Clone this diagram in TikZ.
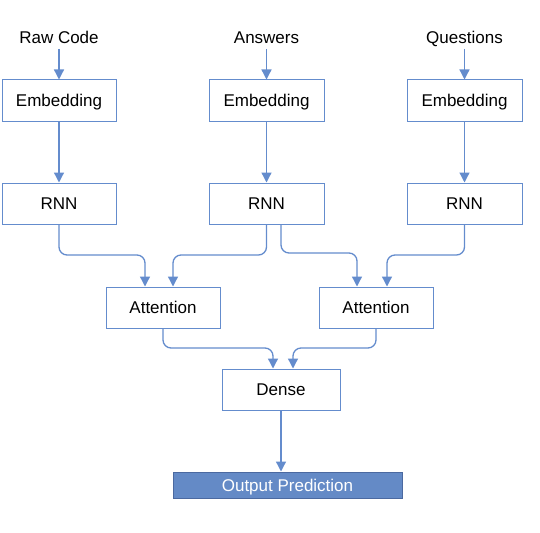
\documentclass[tikz,border=0pt]{standalone}
\usepackage{fontspec}
\setmainfont{Liberation Sans}
\usetikzlibrary{arrows.meta}
\definecolor{ln}{RGB}{100,140,205}
\definecolor{outfill}{RGB}{100,138,198}
\definecolor{outdraw}{RGB}{75,105,160}
\begin{document}
\begin{tikzpicture}[x=1pt,y=-1pt,
  box/.style={draw=ln, line width=1pt, fill=white, minimum height=41pt, inner sep=0pt, text height=12.2pt, text depth=0pt, font=\fontsize{17}{20}\selectfont},
  lbl/.style={font=\fontsize{17}{20}\selectfont, inner sep=0pt, anchor=base},
  conn/.style={draw=ln, line width=1.3pt, -{Triangle[length=10pt,width=10pt]}, rounded corners=8pt}]
\useasboundingbox (0,0) rectangle (540,532);
% labels
\node[lbl] (l1) at (59,43.5) {Raw Code};
\node[lbl] (l2) at (266.5,43.5) {Answers};
\node[lbl] (l3) at (464.5,43.5) {Questions};
\coordinate (s1) at (59,49);
\coordinate (s2) at (266.5,49);
\coordinate (s3) at (464.5,49);
% embedding
\node[box, minimum width=114pt] (e1) at (59,100.5) {Embedding};
\node[box, minimum width=115pt] (e2) at (266.5,100.5) {Embedding};
\node[box, minimum width=115pt] (e3) at (464.5,100.5) {Embedding};
% rnn
\node[box, minimum width=114pt] (r1) at (59,203.5) {RNN};
\node[box, minimum width=115pt] (r2) at (266.5,203.5) {RNN};
\node[box, minimum width=115pt] (r3) at (464.5,203.5) {RNN};
% attention
\node[box, minimum width=114pt] (a1) at (163,307.5) {Attention};
\node[box, minimum width=114pt] (a2) at (376,307.5) {Attention};
% dense
\node[box, minimum width=118pt] (d) at (281,389.5) {Dense};
% output
\node[draw=outdraw, fill=outfill, line width=1pt, minimum width=229pt, minimum height=26pt, inner sep=0pt, text height=12.2pt, text depth=0pt, text=white, font=\fontsize{17}{20}\selectfont] (o) at (287.5,485) {Output Prediction};
% connectors
\draw[conn] (s1) -- (e1.north);
\draw[conn] (s2) -- (e2.north);
\draw[conn] (s3) -- (e3.north);
\draw[conn] (e1.south) -- (r1.north);
\draw[conn] (e2.south) -- (r2.north);
\draw[conn] (e3.south) -- (r3.north);
\draw[conn] (r1.south) -- (59,255) -| ([xshift=-18pt]a1.north);
\draw[conn] (r2.south) -- (266.5,255) -| ([xshift=10pt]a1.north);
\draw[conn] ([xshift=14.5pt]r2.south) -- (281,253) -| ([xshift=-19pt]a2.north);
\draw[conn] (r3.south) -- (464.5,255) -| ([xshift=11pt]a2.north);
\draw[conn] (a1.south) -- (163,348) -| ([xshift=-8pt]d.north);
\draw[conn] (a2.south) -- (376,348) -| ([xshift=12pt]d.north);
\draw[conn] (d.south) -- (d.south |- o.north);
\end{tikzpicture}
\end{document}
